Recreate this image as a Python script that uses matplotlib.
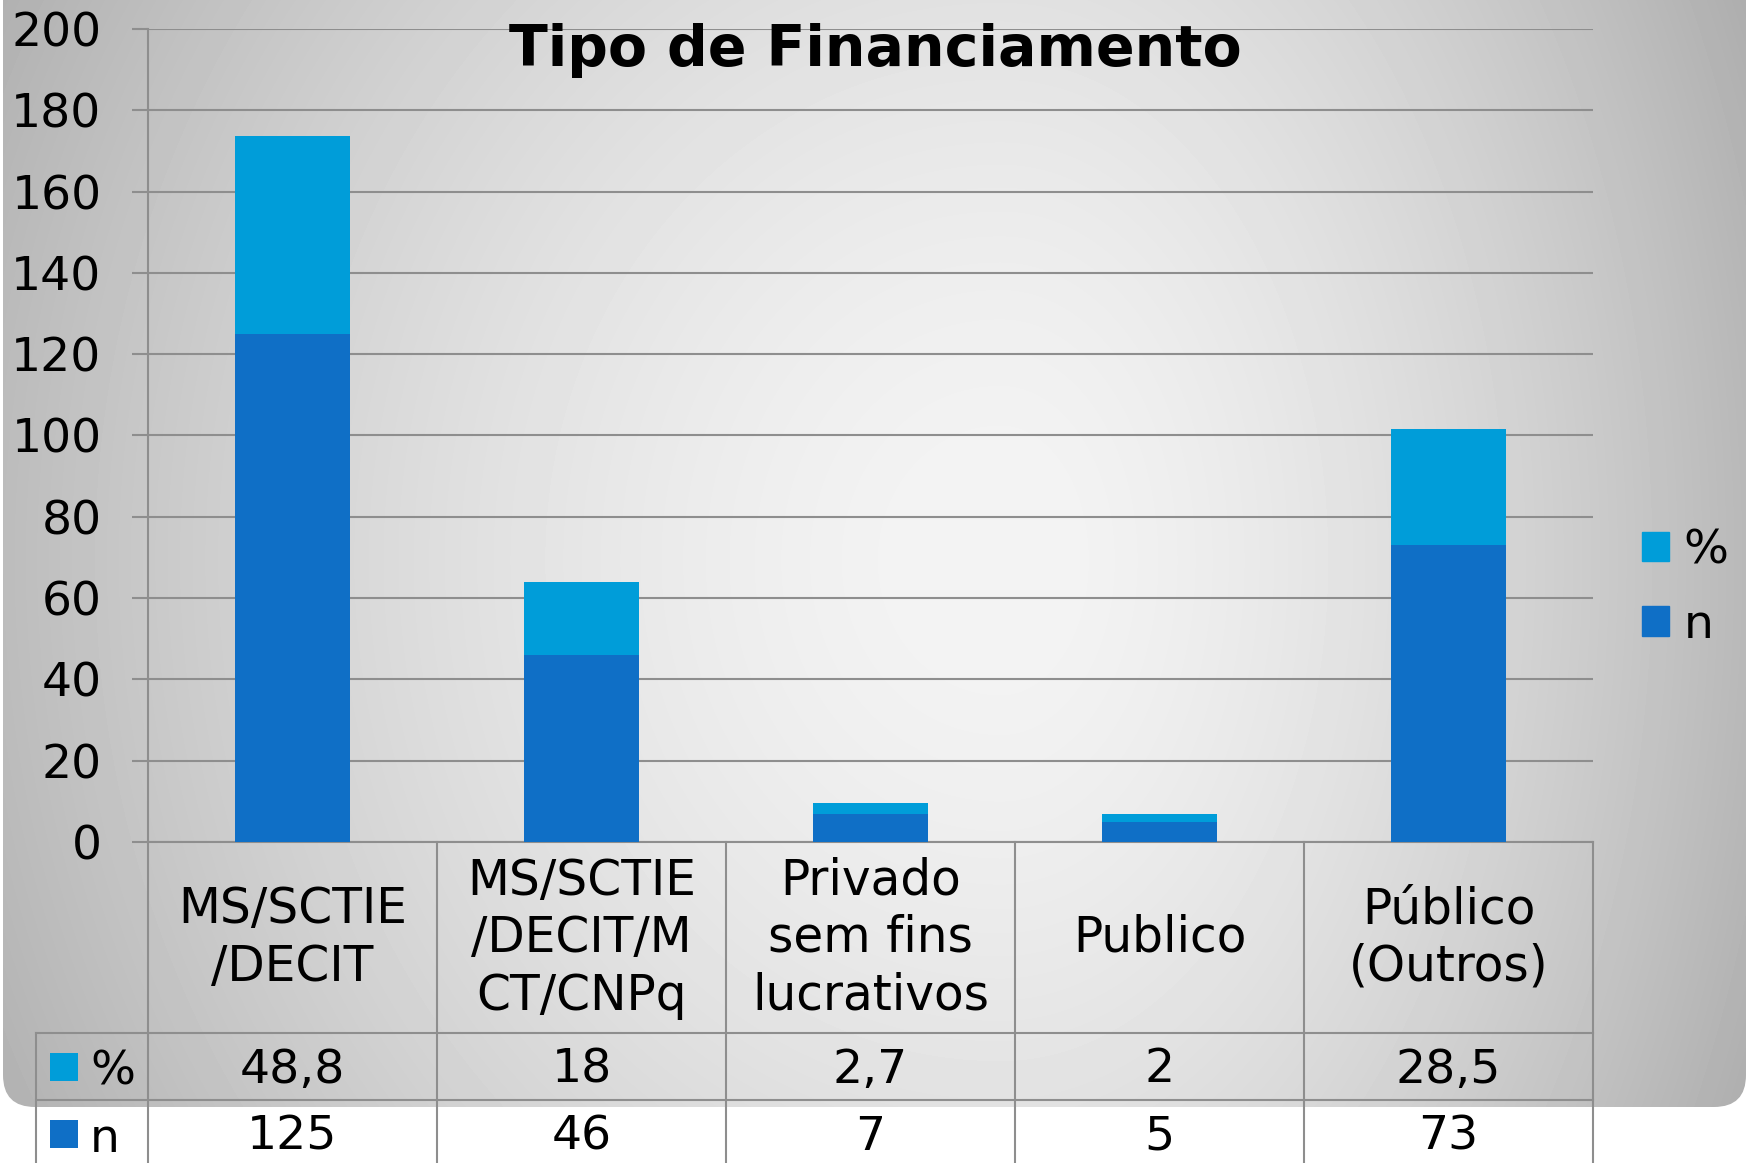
import numpy as np
import matplotlib
matplotlib.use("Agg")
import matplotlib.pyplot as plt
import matplotlib.transforms as mtransforms
from matplotlib.patches import FancyBboxPatch, Patch

# data
categories = ["MS/SCTIE\n/DECIT", "MS/SCTIE\n/DECIT/M\nCT/CNPq",
              "Privado\nsem fins\nlucrativos", "Publico", "Público\n(Outros)"]
n_values = [125, 46, 7, 5, 73]
pct_values = [48.8, 18, 2.7, 2, 28.5]
series_names = ["%", "n"]
title = "Tipo de Financiamento"
yticks = list(range(0, 201, 20))

C_N = "#0F6FC6"
C_PCT = "#009DD9"
GRID = "#8e8e8e"

W, H = 1747, 1163
fig = plt.figure(figsize=(W / 100, H / 100), dpi=100, facecolor="white")

# background panel with radial grey gradient and rounded corners
bg = fig.add_axes([0, 0, 1, 1], zorder=0)
bg.set_xlim(0, W)
bg.set_ylim(H, 0)
bg.axis("off")
X, Y = np.meshgrid(np.arange(W), np.arange(H))
dx = (X - 1000) / np.where(X < 1000, 1000, 720)
dy = (Y - 560) / 1100
r = np.sqrt(dx ** 2 + dy ** 2)
v = np.clip(244 - 56 * r ** 1.6, 150, 250) / 255
img = bg.imshow(v, cmap="gray", vmin=0, vmax=1, extent=(0, W, H, 0),
                interpolation="bilinear")
panel = FancyBboxPatch((3, -60), W - 4, 1107 + 60, boxstyle="round,pad=0,rounding_size=32",
                       transform=bg.transData, facecolor="none", edgecolor="none")
bg.add_patch(panel)
img.set_clip_path(panel)

# main chart
L, R, T, B = 148, 1593, 29, 842
ax = fig.add_axes([L / W, 1 - B / H, (R - L) / W, (B - T) / H], zorder=2)
ax.patch.set_visible(False)

x = np.arange(len(categories))
ax.bar(x, n_values, width=0.4, color=C_N, zorder=3)
ax.bar(x, pct_values, bottom=n_values, width=0.4, color=C_PCT, zorder=3)

ax.set_xlim(-0.5, len(categories) - 0.5)
ax.set_ylim(0, 200)
ax.set_yticks(yticks)
ax.set_yticklabels([str(t) for t in yticks], fontsize=34)
ax.tick_params(axis="y", length=11.5, width=1.5, color=GRID, pad=22)
ax.set_xticks([])
ax.yaxis.grid(True, color=GRID, lw=1.5, zorder=1)
ax.set_axisbelow(True)
for s in ["top", "right"]:
    ax.spines[s].set_visible(False)
for s in ["left", "bottom"]:
    ax.spines[s].set_color(GRID)
    ax.spines[s].set_linewidth(1.5)

# data table under the chart (x in data, y in axes fraction)
tr = mtransforms.blended_transform_factory(ax.transData, ax.transAxes)
axh = B - T
def yf(py):
    return (B - py) / axh

ncol = len(categories)
colw = (R - L) / ncol
x_left = -0.5 - (L - 36) / colw
y_cat = yf(1033)
y_pct = yf(1100)
y_bot = yf(H + 5)

line_kw = dict(color=GRID, lw=1.5, transform=tr, clip_on=False, zorder=4)
for i in range(ncol + 1):
    ax.plot([i - 0.5, i - 0.5], [0, y_bot], **line_kw)
ax.plot([x_left, x_left], [y_cat, y_bot], **line_kw)
for yy in (y_cat, y_pct):
    ax.plot([x_left, ncol - 0.5], [yy, yy], **line_kw)

for i, cat in enumerate(categories):
    ax.text(i, yf(938), cat, transform=tr, ha="center", va="center",
            fontsize=35, linespacing=1.25, clip_on=False)
    ax.text(i, yf(1070), f"{pct_values[i]:g}".replace(".", ","), transform=tr,
            ha="center", va="center", fontsize=34, clip_on=False)
    ax.text(i, yf(1137), str(n_values[i]), transform=tr,
            ha="center", va="center", fontsize=34, clip_on=False)

sq_x = x_left + (64 - 36) / colw
lab_x = x_left + (90 - 36) / colw
for py, name, col in [(1067, series_names[0], C_PCT), (1134, series_names[1], C_N)]:
    ax.plot([sq_x], [yf(py)], marker="s", ms=19.5, mew=0, color=col,
            transform=tr, clip_on=False, zorder=5)
    ax.text(lab_x, yf(py + 5), name, transform=tr, ha="left", va="center",
            fontsize=34, clip_on=False)

# legend on the right
handles = [Patch(color=C_PCT, label=series_names[0]), Patch(color=C_N, label=series_names[1])]
fig.legend(handles=handles, loc="center left", bbox_to_anchor=(1642 / W, 1 - 588 / H),
           frameon=False, fontsize=34, handlelength=0.58, handleheight=0.58,
           handletextpad=0.3, labelspacing=0.62, borderpad=0, borderaxespad=0)

fig.text(875 / W, 1 - 66 / H, title, ha="center", va="baseline",
         fontsize=41, fontweight="bold", zorder=5)

fig.savefig("out.png", dpi=100, facecolor="white")
